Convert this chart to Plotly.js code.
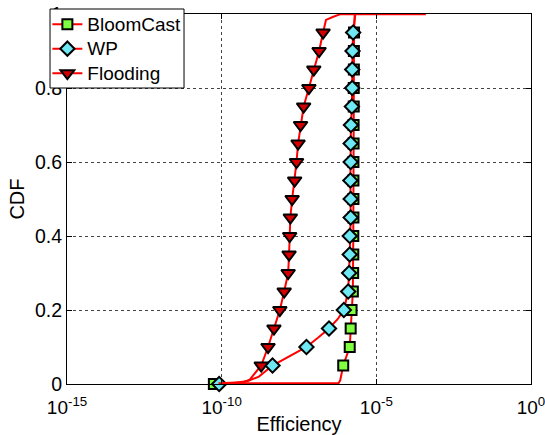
<!DOCTYPE html>
<html>
<head>
<meta charset="utf-8">
<script src="https://cdn.plot.ly/plotly-3.0.1.min.js"></script>
<style>html,body{margin:0;padding:0;background:#fff;}#chart{width:545px;height:435px;}</style>
</head>
<body>
<div id="chart"></div>
<script>
// Series names
const seriesNames = ["BloomCast", "WP", "Flooding"];

// Axis ticks
const xTickVals = [1e-15, 1e-10, 1e-5, 1];
const xTickText = ["10<sup>-15</sup>", "10<sup>-10</sup>", "10<sup>-5</sup>", "10<sup>0</sup>"];
const yTickVals = [0, 0.2, 0.4, 0.6, 0.8, 1];
const yTickText = ["0", "0.2", "0.4", "0.6", "0.8", "1"];

// BloomCast markers (efficiency, CDF)
const bloomMarkX = [5.6e-11, 8.5e-7, 1.38e-6, 1.48e-6, 1.58e-6, 1.74e-6, 1.78e-6, 1.8e-6, 1.8e-6, 1.82e-6,
                    1.82e-6, 1.82e-6, 1.82e-6, 1.84e-6, 1.84e-6, 1.86e-6, 1.86e-6, 1.88e-6, 1.88e-6, 1.9e-6];
const bloomMarkY = [0, 0.05, 0.10, 0.15, 0.20, 0.25, 0.30, 0.35, 0.40, 0.45,
                    0.50, 0.55, 0.60, 0.65, 0.70, 0.75, 0.80, 0.85, 0.90, 0.95];
// BloomCast curve
const bloomLineX = [5.6e-11, 6.0e-7, 6.8e-7, 8.5e-7, 1.38e-6, 1.48e-6, 1.58e-6, 1.74e-6, 1.8e-6, 1.84e-6, 1.9e-6, 2.0e-6];
const bloomLineY = [0.002, 0.002, 0.01, 0.05, 0.10, 0.15, 0.20, 0.25, 0.40, 0.70, 0.95, 1.0];

// WP markers
const wpMarkX = [8.3e-11, 4.4e-9, 5.5e-8, 2.95e-7, 8.9e-7, 1.23e-6, 1.32e-6, 1.38e-6, 1.38e-6, 1.48e-6,
                 1.48e-6, 1.45e-6, 1.48e-6, 1.48e-6, 1.51e-6, 1.62e-6, 1.66e-6, 1.66e-6, 1.70e-6, 1.78e-6];
const wpMarkY = [0, 0.05, 0.10, 0.15, 0.20, 0.25, 0.30, 0.35, 0.40, 0.45,
                 0.50, 0.55, 0.60, 0.65, 0.70, 0.75, 0.80, 0.85, 0.90, 0.95];
// WP curve
const wpLineX = [8.3e-11, 2.5e-10, 7e-10, 1.6e-9, 4.4e-9, 1.6e-8, 5.5e-8, 1.3e-7, 2.95e-7, 5.6e-7, 8.9e-7,
                 1.23e-6, 1.32e-6, 1.38e-6, 1.48e-6, 1.45e-6, 1.51e-6, 1.62e-6, 1.70e-6, 1.78e-6, 2.1e-6];
const wpLineY = [0, 0.003, 0.008, 0.02, 0.05, 0.075, 0.10, 0.125, 0.15, 0.175, 0.20,
                 0.25, 0.30, 0.35, 0.45, 0.55, 0.70, 0.75, 0.90, 0.95, 1.0];

// Flooding markers
const floodMarkX = [1.9e-9, 3.16e-9, 4.9e-9, 7.6e-9, 1.05e-8, 1.41e-8, 1.51e-8, 1.58e-8, 1.66e-8, 1.9e-8,
                    2.29e-8, 2.63e-8, 2.95e-8, 3.55e-8, 4.47e-8, 6.6e-8, 9.5e-8, 1.41e-7, 1.9e-7];
const floodMarkY = [0.05, 0.10, 0.15, 0.20, 0.25, 0.30, 0.35, 0.40, 0.45, 0.50,
                    0.55, 0.60, 0.65, 0.70, 0.75, 0.80, 0.85, 0.90, 0.95];
// Flooding curve
const floodLineX = [7.9e-11, 5e-10, 8.1e-10, 1.9e-9, 3.16e-9, 4.9e-9, 7.6e-9, 1.05e-8, 1.41e-8, 1.51e-8, 1.58e-8,
                    1.66e-8, 1.9e-8, 2.29e-8, 2.63e-8, 2.95e-8, 3.55e-8, 4.47e-8, 6.6e-8, 9.5e-8, 1.41e-7, 1.9e-7,
                    2.35e-7, 3.9e-7, 6.6e-7, 4e-4];
const floodLineY = [0.002, 0.005, 0.012, 0.05, 0.10, 0.15, 0.20, 0.25, 0.30, 0.35, 0.40,
                    0.45, 0.50, 0.55, 0.60, 0.65, 0.70, 0.75, 0.80, 0.85, 0.90, 0.95,
                    0.984, 0.992, 0.999, 0.999];

const RED = "#ff0000";
const styles = [
  {symbol: "square", size: 10, fill: "#80ff40"},
  {symbol: "diamond", size: 11, fill: "#6ee8f2"},
  {symbol: "triangle-down", size: 12, fill: "#d40000"}
];
const lines = [[bloomLineX, bloomLineY], [wpLineX, wpLineY], [floodLineX, floodLineY]];
const marks = [[bloomMarkX, bloomMarkY], [wpMarkX, wpMarkY], [floodMarkX, floodMarkY]];

const traces = [];
for (let i = 0; i < 3; i++) {
  traces.push({
    type: "scatter", mode: "lines", x: lines[i][0], y: lines[i][1],
    line: {color: RED, width: 2}, showlegend: false, hoverinfo: "skip", cliponaxis: false
  });
  traces.push({
    type: "scatter", mode: "markers", x: marks[i][0], y: marks[i][1],
    marker: {symbol: styles[i].symbol, size: styles[i].size, color: styles[i].fill,
             line: {color: "#000", width: 2}},
    showlegend: false, cliponaxis: false
  });
}
for (let i = 0; i < 3; i++) {
  traces.push({
    type: "scatter", mode: "lines+markers", x: [null], y: [null],
    name: '<span style="font-size:19px">' + seriesNames[i] + '</span>',
    line: {color: RED, width: 2},
    marker: {symbol: styles[i].symbol, size: styles[i].size, color: styles[i].fill,
             line: {color: "#000", width: 2}}
  });
}

const FONT = "Arial, 'Liberation Sans', sans-serif";
const layout = {
  width: 545, height: 435,
  margin: {l: 67, r: 14, t: 14, b: 51, autoexpand: false},
  paper_bgcolor: "#fff", plot_bgcolor: "#fff",
  font: {family: FONT, size: 20, color: "#000"},
  showlegend: true,
  legend: {
    x: -0.0423, y: 1.0189, xanchor: "left", yanchor: "top",
    bgcolor: "rgba(0,0,0,0)", borderwidth: 0,
    font: {family: FONT, size: 16.5, color: "#000"},
    itemwidth: 30, tracegroupgap: 0
  },
  shapes: [{
    type: "rect", xref: "paper", yref: "paper",
    x0: -0.0366, x1: 0.2522, y0: 0.8, y1: 1.0135,
    fillcolor: "#fff", line: {color: "#000", width: 1}, layer: "above"
  }],
  xaxis: {
    type: "log", range: [-15, 0],
    tickvals: xTickVals, ticktext: xTickText,
    ticks: "inside", ticklen: 5, tickcolor: "#000",
    ticklabeloverflow: "allow", ticklabelstandoff: 6,
    showline: true, linecolor: "#000", linewidth: 1, mirror: "ticks",
    showgrid: true, gridcolor: "#444", griddash: "dot", gridwidth: 1,
    zeroline: false,
    title: {text: "Efficiency", font: {family: FONT, size: 20}, standoff: 0},
    tickfont: {family: FONT, size: 19}
  },
  yaxis: {
    range: [0, 1],
    tickvals: yTickVals, ticktext: yTickText,
    ticks: "inside", ticklen: 5, tickcolor: "#000",
    showline: true, linecolor: "#000", linewidth: 1, mirror: "ticks",
    showgrid: true, gridcolor: "#444", griddash: "dot", gridwidth: 1,
    zeroline: false,
    title: {text: "CDF", font: {family: FONT, size: 20}, standoff: 4},
    tickfont: {family: FONT, size: 19.5}
  }
};

Plotly.newPlot("chart", traces, layout, {displayModeBar: false, staticPlot: true});
</script>
</body>
</html>
